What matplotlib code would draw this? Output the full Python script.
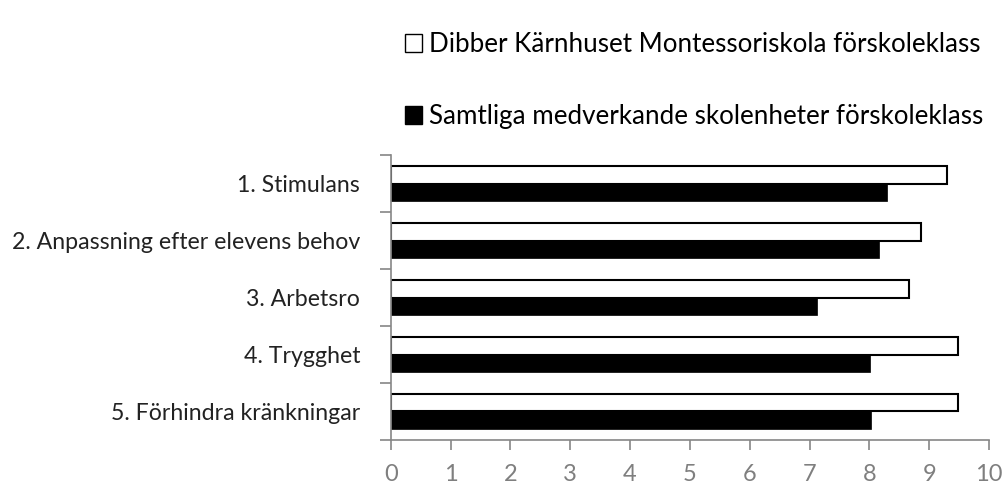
import matplotlib.pyplot as plt
from matplotlib.patches import Patch

plt.rcParams['font.family'] = ['Lato', 'DejaVu Sans']

categories = ["1. Stimulans", "2. Anpassning efter elevens behov", "3. Arbetsro",
              "4. Trygghet", "5. Förhindra kränkningar"]
school = [9.30, 8.86, 8.67, 9.48, 9.48]
all_units = [8.30, 8.16, 7.13, 8.01, 8.03]
school_label = "Dibber Kärnhuset Montessoriskola förskoleklass"
all_label = "Samtliga medverkande skolenheter förskoleklass"

fig = plt.figure(figsize=(10.02, 4.86), dpi=100)
ax = fig.add_axes([0.390, 0.0947, 0.597, 0.586])

h = 0.31
pos = list(range(len(categories)))
ax.barh([p - h / 2 for p in pos], school, height=h, color="white",
        edgecolor="black", linewidth=1.5)
ax.barh([p + h / 2 for p in pos], all_units, height=h, color="black",
        edgecolor="black", linewidth=0.5)

ax.set_ylim(len(categories) - 0.5, -0.5)
ax.set_xlim(0, 10)
ax.set_xticks(range(11))
ax.set_yticks(pos)
ax.set_yticklabels(categories, fontsize=16.7, color="#222222")
ax.set_yticks([p - 0.5 for p in range(len(categories) + 1)], minor=True)
ax.tick_params(axis="y", which="major", length=0, pad=22)
ax.tick_params(axis="y", which="minor", length=8, color="#868686", width=1.2)
ax.tick_params(axis="x", length=7, color="#868686", width=1.2,
               labelsize=17, labelcolor="#7f7f7f", pad=10)
for s in ["top", "right"]:
    ax.spines[s].set_visible(False)
for s in ["left", "bottom"]:
    ax.spines[s].set_color("#868686")
    ax.spines[s].set_linewidth(1.2)

handles = [Patch(facecolor="white", edgecolor="black", linewidth=1),
           Patch(facecolor="black", edgecolor="black")]
fig.legend(handles, [school_label, all_label], loc="upper right",
           bbox_to_anchor=(0.992, 0.955), frameon=False, fontsize=18.7,
           labelspacing=1.8, handlelength=0.65, handleheight=0.65,
           handletextpad=0.3, borderaxespad=0)

fig.savefig("out.png", dpi=100)
